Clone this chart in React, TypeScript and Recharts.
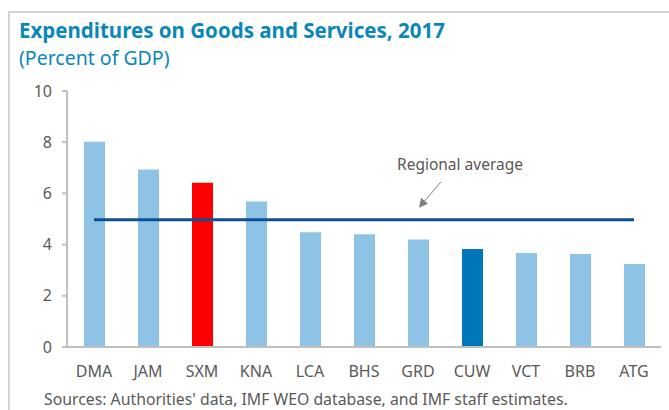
import React from 'react';
import {
  ComposedChart,
  Bar,
  Line,
  Cell,
  XAxis,
  YAxis,
  ReferenceDot,
} from 'recharts';

const countries = ['DMA', 'JAM', 'SXM', 'KNA', 'LCA', 'BHS', 'GRD', 'CUW', 'VCT', 'BRB', 'ATG'];
const spending = [8.02, 6.93, 6.42, 5.68, 4.48, 4.4, 4.2, 3.83, 3.67, 3.63, 3.24];
const regionalAverage = 4.97;
const yTicks = [0, 2, 4, 6, 8, 10];

const FONT = '"Noto Sans", "Open Sans", sans-serif';
const GREY_TEXT = '#595959';
const TITLE_BLUE = '#0a87b8';
const BAR_BLUE = '#8ec3e6';
const AVG_BLUE = '#0b4f96';

const barColor = (code: string) => {
  if (code === 'SXM') return '#ff0000';
  if (code === 'CUW') return '#0077bb';
  return BAR_BLUE;
};

const data = countries.map((c, i) => ({ country: c, value: spending[i], avg: regionalAverage }));

// arrow + text for the "Regional average" callout, placed relative to the dot
const AverageCallout = (props: any) => {
  const { cx, cy } = props;
  if (cx == null || cy == null) return null;
  const tipX = cx + 1;
  const tipY = cy - 12;
  return (
    <g>
      <line x1={cx + 23} y1={cy - 38} x2={tipX + 5} y2={tipY - 6} stroke="#7f7f7f" strokeWidth={1} />
      <polygon
        points={`${tipX},${tipY} ${tipX + 2},${tipY - 10} ${tipX + 9},${tipY - 4}`}
        fill="#7f7f7f"
      />
      <text x={cx + 42} y={cy - 50} textAnchor="middle" fontFamily={FONT} fontSize={15.5} fill={GREY_TEXT}>
        Regional average
      </text>
    </g>
  );
};

export default function App() {
  return (
    <div style={{ position: 'absolute', left: 0, top: 0, width: 669, height: 410, background: '#fff', overflow: 'hidden' }}>
      <div
        style={{
          position: 'absolute',
          left: 8,
          top: 11,
          width: 670,
          height: 410,
          borderTop: '2px solid #d4d4d4',
          borderLeft: '2px solid #d4d4d4',
        }}
      />
      <div
        style={{
          position: 'absolute',
          left: 19,
          top: 16,
          fontFamily: FONT,
          fontWeight: 700,
          fontSize: 20.5,
          color: TITLE_BLUE,
          whiteSpace: 'nowrap',
        }}
      >
        Expenditures on Goods and Services, 2017
      </div>
      <div
        style={{
          position: 'absolute',
          left: 19,
          top: 44,
          fontFamily: FONT,
          fontSize: 19.5,
          color: TITLE_BLUE,
          whiteSpace: 'nowrap',
        }}
      >
        (Percent of GDP)
      </div>
      <div style={{ position: 'absolute', left: 0, top: 0 }}>
        <ComposedChart
          width={669}
          height={410}
          data={data}
          margin={{ top: 91, right: 8, bottom: 33, left: 17 }}
        >
          <XAxis
            dataKey="country"
            height={30}
            tickLine={false}
            axisLine={{ stroke: '#bfbfbf', strokeWidth: 2 }}
            tick={{ fill: GREY_TEXT, fontSize: 16, fontFamily: FONT }}
            tickMargin={13}
            interval={0}
          />
          <YAxis
            width={50}
            domain={[0, 10]}
            ticks={yTicks}
            axisLine={{ stroke: '#bfbfbf', strokeWidth: 2 }}
            tickLine={{ stroke: '#bfbfbf', strokeWidth: 2 }}
            tickSize={5}
            tickMargin={10}
            tick={{ fill: GREY_TEXT, fontSize: 16, fontFamily: FONT }}
          />
          <Bar dataKey="value" barSize={21} isAnimationActive={false}>
            {data.map((d) => (
              <Cell key={d.country} fill={barColor(d.country)} />
            ))}
          </Bar>
          <Line
            dataKey="avg"
            stroke={AVG_BLUE}
            strokeWidth={3}
            dot={false}
            activeDot={false}
            isAnimationActive={false}
          />
          <ReferenceDot x="GRD" y={regionalAverage} shape={AverageCallout} />
        </ComposedChart>
      </div>
      <div
        style={{
          position: 'absolute',
          left: 44,
          top: 389,
          fontFamily: FONT,
          fontSize: 15.8,
          lineHeight: '20px',
          color: GREY_TEXT,
          whiteSpace: 'nowrap',
        }}
      >
        Sources: Authorities' data, IMF WEO database, and IMF staff estimates.
      </div>
    </div>
  );
}
